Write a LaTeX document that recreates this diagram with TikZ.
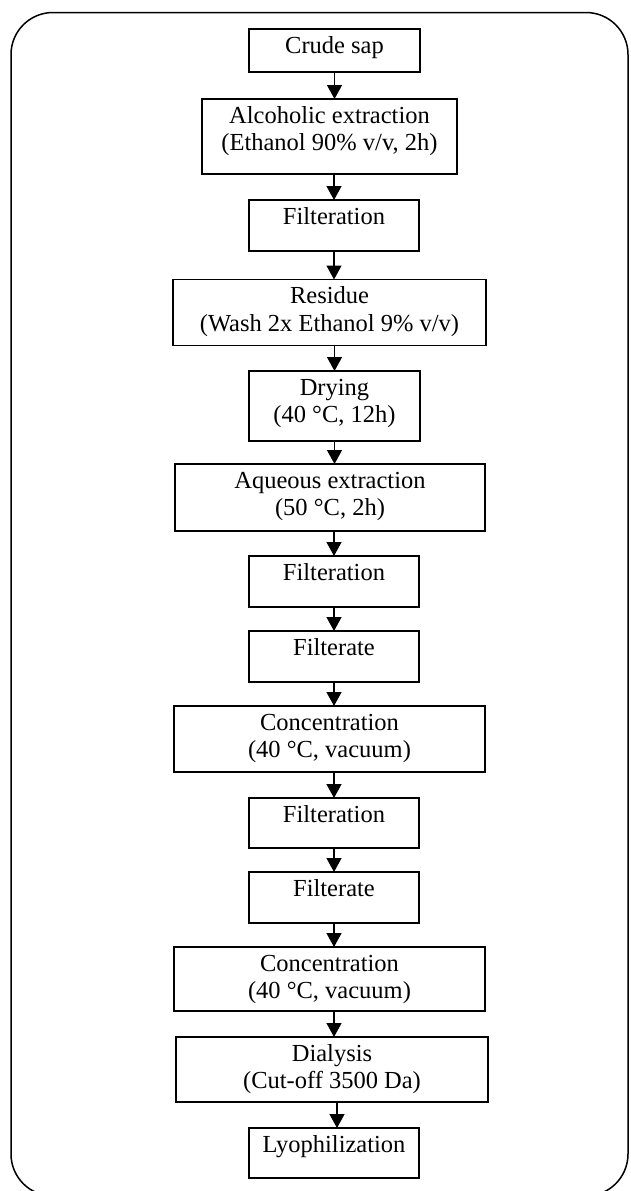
\documentclass[tikz,border=0pt]{standalone}
\usepackage{fontspec}
\setmainfont{Liberation Serif}
\usetikzlibrary{arrows.meta}
\newcommand{\bxtext}[3]{\parbox[c][#2][t]{#1}{\centering\rule{0pt}{24pt}#3\par}}
\begin{document}
\begin{tikzpicture}[x=1pt,y=-1pt,
  box/.style={draw, line width=1.3pt, inner sep=0pt, outer sep=0pt, rectangle,
              font=\fontsize{24.5}{27.5}\selectfont},
  arr/.style={line width=1.3pt, -{Triangle[width=15pt,length=14pt]}},
  frame/.style={line width=1.5pt, rounded corners=42pt}]
\useasboundingbox (0,0) rectangle (630,1191);
\clip (0,0) rectangle (630,1191);
\draw[frame] (11,12.5) rectangle (628,1196);

\node[box] (n1)  at (334.5,50.5)  {\bxtext{171pt}{43pt}{Crude sap}};
\node[box] (n2)  at (329.5,136.5) {\bxtext{255pt}{75pt}{Alcoholic extraction\\(Ethanol 90\% v/v, 2h)}};
\node[box] (n3)  at (334,225.5)   {\bxtext{170pt}{51pt}{Filteration}};
\node[box] (n4)  at (329.5,312.5) {\bxtext{313pt}{66pt}{Residue\\(Wash 2x Ethanol 9\% v/v)}};
\node[box] (n5)  at (334.5,406)   {\bxtext{171pt}{70pt}{Drying\\(40 °C, 12h)}};
\node[box] (n6)  at (330,497.5)   {\bxtext{310pt}{67pt}{Aqueous extraction\\(50 °C, 2h)}};
\node[box] (n7)  at (334,581.5)   {\bxtext{170pt}{51pt}{Filteration}};
\node[box] (n8)  at (334,656.5)   {\bxtext{170pt}{51pt}{Filterate}};
\node[box] (n9)  at (329.5,739)   {\bxtext{311pt}{66pt}{Concentration\\(40 °C, vacuum)}};
\node[box] (n10) at (334,823)     {\bxtext{170pt}{50pt}{Filteration}};
\node[box] (n11) at (334,897.5)   {\bxtext{170pt}{51pt}{Filterate}};
\node[box] (n12) at (329.5,979)   {\bxtext{311pt}{64pt}{Concentration\\(40 °C, vacuum)}};
\node[box] (n13) at (332,1069.5)  {\bxtext{312pt}{65pt}{Dialysis\\(Cut-off 3500 Da)}};
\node[box] (n14) at (334,1153)    {\bxtext{170pt}{50pt}{Lyophilization}};

\draw[arr] (n1.south) -- (n1.south |- n2.north);
\draw[arr] (n2.south -| n3.north) -- (n3.north);
\draw[arr] (n3.south) -- (n3.south |- n4.north);
\draw[arr] (n4.south -| n5.north) -- (n5.north);
\draw[arr] (n5.south) -- (n5.south |- n6.north);
\draw[arr] (n6.south -| n7.north) -- (n7.north);
\draw[arr] (n7.south) -- (n8.north);
\draw[arr] (n8.south) -- (n8.south |- n9.north);
\draw[arr] (n9.south -| n10.north) -- (n10.north);
\draw[arr] (n10.south) -- (n11.north);
\draw[arr] (n11.south) -- (n11.south |- n12.north);
\draw[arr] (n12.south -| n11.south) -- (n13.north -| n11.south);
\draw[arr] ([xshift=3pt]n13.south -| n14.north) -- ([xshift=3pt]n14.north);
\end{tikzpicture}
\end{document}
